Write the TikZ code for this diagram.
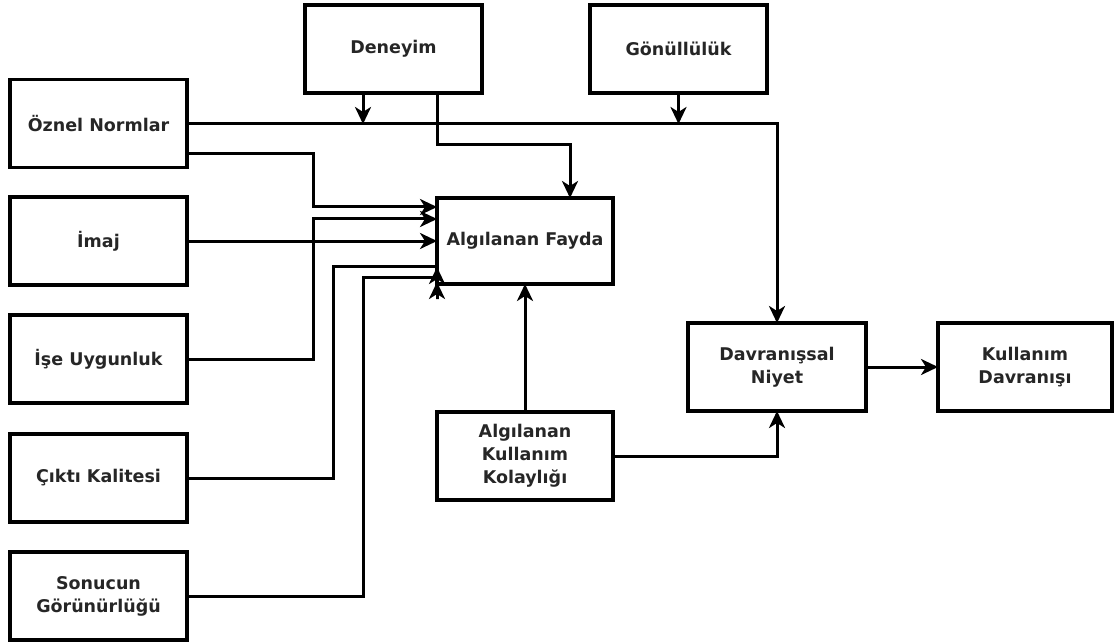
\documentclass[tikz,border=0pt]{standalone}
\usepackage{fontspec}
\setmainfont{DejaVu Sans}
\usetikzlibrary{arrows.meta}
\begin{document}
\begin{tikzpicture}[x=1pt,y=-1pt,
  box/.style={draw, line width=3.1pt, outer sep=0pt, inner sep=2pt,
    minimum width=177pt, minimum height=88pt, align=center,
    font=\fontsize{17.5}{23}\selectfont\bfseries, text=black!85},
  conn/.style={line width=3pt, line join=miter},
  arr/.style={conn, -{Stealth[length=17pt, width=16pt, inset=5pt]}}]
\useasboundingbox (0,0) rectangle (1115,644);

% left column of determinants
\node[box] (oznel)   at (98.5,123.5) {Öznel Normlar};
\node[box] (imaj)    at (98.5,241)   {İmaj};
\node[box] (ise)     at (98.5,359)   {İşe Uygunluk};
\node[box] (cikti)   at (98.5,478)   {Çıktı Kalitesi};
\node[box] (sonucun) at (98.5,596)   {Sonucun\\Görünürlüğü};

% moderators on top
\node[box] (deneyim) at (393.5,49) {Deneyim};
\node[box] (gonul)   at (678.5,49) {Gönüllülük};

% core constructs
\node[box, minimum width=176pt, minimum height=86pt] (fayda) at (525,241) {Algılanan Fayda};
\node[box, minimum width=176pt] (akk) at (525,456) {Algılanan\\Kullanım\\Kolaylığı};
\node[box, minimum width=178pt] (niyet) at (777,367) {Davranışsal\\Niyet};
\node[box, minimum width=174pt] (kullanim) at (1025,367) {Kullanım\\Davranışı};

% junctions of the moderators on the subjective norm line
\coordinate (jden) at (363,124);
\coordinate (jgon) at (678.5,124);

% subjective norms to intention
\draw[arr] (oznel.east) -| (niyet.north);
% moderator arrows
\draw[arr] ([xshift=-30.5pt]deneyim.south) -- (jden);
\draw[arr] (gonul.south) -- (jgon);
% experience to perceived usefulness
\draw[arr] ([xshift=43.5pt]deneyim.south) |- (570,145) -- ([xshift=45pt]fayda.north);

% determinants of perceived usefulness
\draw[arr] ([yshift=-30.5pt]oznel.east) -| (313,207) -- ([yshift=34pt]fayda.west);
\draw[arr] (imaj.east) -- (fayda.west);
\draw[arr] (ise.east) -| (313,219) -- ([yshift=22pt]fayda.west);
\draw[arr] (cikti.east) -| (333,266) -- ([yshift=-25pt]fayda.west)
  -- ([yshift=-42pt]fayda.west) -- ([yshift=-26pt]fayda.west);
\draw[arr] (sonucun.east) -| (363,277) -- ([yshift=-36pt]fayda.west)
  -- ([yshift=-58pt]fayda.west) -- ([yshift=-41pt]fayda.west);

% ease of use, intention and behaviour
\draw[arr] (akk.north) -- (fayda.south);
\draw[arr] (akk.east) -| (niyet.south);
\draw[arr] (niyet.east) -- (kullanim.west);
\end{tikzpicture}
\end{document}
